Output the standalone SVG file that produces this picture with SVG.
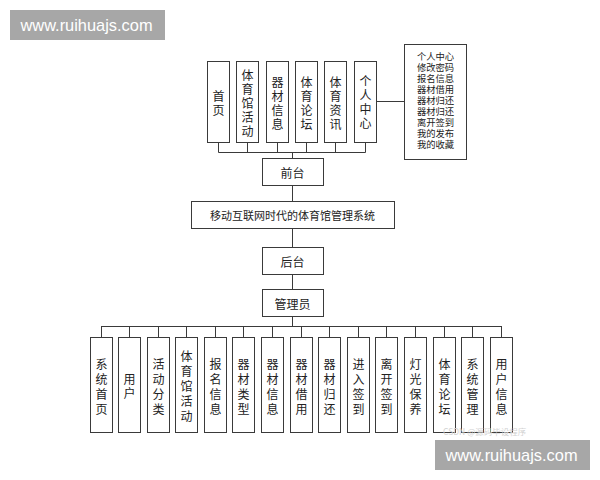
<svg xmlns="http://www.w3.org/2000/svg" width="600" height="480" viewBox="0 0 600 480">
<style>
.box{fill:#fff;stroke:#3a3a3a;stroke-width:1}
.ln{stroke:#3a3a3a;stroke-width:1;fill:none}
.t{font-family:"Noto Sans CJK SC","Noto Sans",sans-serif;font-size:12px;fill:#222;text-anchor:middle;dominant-baseline:central}
.s{font-size:9.3px}
.wm{fill:#a7a7a7}
.wt{font-family:"Liberation Sans",Arial,sans-serif;font-size:16.4px;fill:#fff}
</style>
<rect width="600" height="480" fill="#fff"/>
<g id="connectors">
<path class="ln" d="M218.5 142V152.5M247.5 142V152.5M277.5 142V152.5M306.5 142V152.5M335.5 142V152.5M365.5 142V152.5M218.5 152.5H365.5M292.5 152.5V158"/>
<path class="ln" d="M376 101.5H404"/>
<path class="ln" d="M292.5 186V201M292.5 228V247M292.5 275V289M292.5 317V326"/>
<path class="ln" d="M101.5 326.5H501.5M101.5 326V337M129.5 326V337M158.5 326V337M186.5 326V337M215.5 326V337M243.5 326V337M272.5 326V337M301.5 326V337M329.5 326V337M358.5 326V337M386.5 326V337M415.5 326V337M444.5 326V337M472.5 326V337M501.5 326V337"/>
</g>
<g id="top-nodes">
<g id="n-shouye"><rect class="box" x="207.5" y="61.5" width="22" height="81"/><text class="t" x="218.5"><tspan x="218.5" y="94.5">首</tspan><tspan x="218.5" y="108.5">页</tspan></text></g>
<g id="n-tyghd"><rect class="box" x="236.5" y="61.5" width="22" height="81"/><text class="t"><tspan x="247.5" y="73.5">体</tspan><tspan x="247.5" y="87.5">育</tspan><tspan x="247.5" y="101.5">馆</tspan><tspan x="247.5" y="115.5">活</tspan><tspan x="247.5" y="129.5">动</tspan></text></g>
<g id="n-qcxx"><rect class="box" x="266.5" y="61.5" width="22" height="81"/><text class="t"><tspan x="277.5" y="80.5">器</tspan><tspan x="277.5" y="94.5">材</tspan><tspan x="277.5" y="108.5">信</tspan><tspan x="277.5" y="122.5">息</tspan></text></g>
<g id="n-tylt"><rect class="box" x="295.5" y="61.5" width="22" height="81"/><text class="t"><tspan x="306.5" y="80.5">体</tspan><tspan x="306.5" y="94.5">育</tspan><tspan x="306.5" y="108.5">论</tspan><tspan x="306.5" y="122.5">坛</tspan></text></g>
<g id="n-tyzx"><rect class="box" x="324.5" y="61.5" width="22" height="81"/><text class="t"><tspan x="335.5" y="80.5">体</tspan><tspan x="335.5" y="94.5">育</tspan><tspan x="335.5" y="108.5">资</tspan><tspan x="335.5" y="122.5">讯</tspan></text></g>
<g id="n-grzx"><rect class="box" x="354.5" y="61.5" width="22" height="81"/><text class="t"><tspan x="365.5" y="79.5">个</tspan><tspan x="365.5" y="93.5">人</tspan><tspan x="365.5" y="107.5">中</tspan><tspan x="365.5" y="121.5">心</tspan></text></g>
<g id="n-grzx-detail"><rect class="box" x="404.5" y="44.5" width="62" height="115"/><text class="t s"><tspan x="435.5" y="56">个人中心</tspan><tspan x="435.5" y="67">修改密码</tspan><tspan x="435.5" y="78">报名信息</tspan><tspan x="435.5" y="89">器材借用</tspan><tspan x="435.5" y="100">器材归还</tspan><tspan x="435.5" y="111">器材归还</tspan><tspan x="435.5" y="122">离开签到</tspan><tspan x="435.5" y="133">我的发布</tspan><tspan x="435.5" y="144">我的收藏</tspan></text></g>
</g>
<g id="n-qiantai"><rect class="box" x="262.5" y="158.5" width="61" height="27"/><text class="t" x="292.5" y="172">前台</text></g>
<g id="n-system"><rect class="box" x="191.5" y="201.5" width="203" height="27"/><text class="t" x="292.5" y="215" style="font-size:11px">移动互联网时代的体育馆管理系统</text></g>
<g id="n-houtai"><rect class="box" x="262.5" y="247.5" width="61" height="27"/><text class="t" x="292.5" y="261">后台</text></g>
<g id="n-admin"><rect class="box" x="262.5" y="289.5" width="61" height="27"/><text class="t" x="292.5" y="303">管理员</text></g>
<g id="bottom-nodes">
<g id="b1"><rect class="box" x="90.5" y="337.5" width="22" height="95"/><text class="t"><tspan x="101.5" y="363">系</tspan><tspan x="101.5" y="378">统</tspan><tspan x="101.5" y="393">首</tspan><tspan x="101.5" y="408">页</tspan></text></g>
<g id="b2"><rect class="box" x="118.5" y="337.5" width="22" height="95"/><text class="t"><tspan x="129.5" y="378">用</tspan><tspan x="129.5" y="392">户</tspan></text></g>
<g id="b3"><rect class="box" x="147.5" y="337.5" width="22" height="95"/><text class="t"><tspan x="158.5" y="363">活</tspan><tspan x="158.5" y="378">动</tspan><tspan x="158.5" y="393">分</tspan><tspan x="158.5" y="408">类</tspan></text></g>
<g id="b4"><rect class="box" x="175.5" y="337.5" width="22" height="95"/><text class="t"><tspan x="186.5" y="355">体</tspan><tspan x="186.5" y="370">育</tspan><tspan x="186.5" y="385">馆</tspan><tspan x="186.5" y="400">活</tspan><tspan x="186.5" y="415">动</tspan></text></g>
<g id="b5"><rect class="box" x="204.5" y="337.5" width="22" height="95"/><text class="t"><tspan x="215.5" y="363">报</tspan><tspan x="215.5" y="378">名</tspan><tspan x="215.5" y="393">信</tspan><tspan x="215.5" y="408">息</tspan></text></g>
<g id="b6"><rect class="box" x="232.5" y="337.5" width="22" height="95"/><text class="t"><tspan x="243.5" y="363">器</tspan><tspan x="243.5" y="378">材</tspan><tspan x="243.5" y="393">类</tspan><tspan x="243.5" y="408">型</tspan></text></g>
<g id="b7"><rect class="box" x="261.5" y="337.5" width="22" height="95"/><text class="t"><tspan x="272.5" y="363">器</tspan><tspan x="272.5" y="378">材</tspan><tspan x="272.5" y="393">信</tspan><tspan x="272.5" y="408">息</tspan></text></g>
<g id="b8"><rect class="box" x="290.5" y="337.5" width="22" height="95"/><text class="t"><tspan x="301.5" y="363">器</tspan><tspan x="301.5" y="378">材</tspan><tspan x="301.5" y="393">借</tspan><tspan x="301.5" y="408">用</tspan></text></g>
<g id="b9"><rect class="box" x="318.5" y="337.5" width="22" height="95"/><text class="t"><tspan x="329.5" y="363">器</tspan><tspan x="329.5" y="378">材</tspan><tspan x="329.5" y="393">归</tspan><tspan x="329.5" y="408">还</tspan></text></g>
<g id="b10"><rect class="box" x="347.5" y="337.5" width="22" height="95"/><text class="t"><tspan x="358.5" y="363">进</tspan><tspan x="358.5" y="378">入</tspan><tspan x="358.5" y="393">签</tspan><tspan x="358.5" y="408">到</tspan></text></g>
<g id="b11"><rect class="box" x="375.5" y="337.5" width="22" height="95"/><text class="t"><tspan x="386.5" y="363">离</tspan><tspan x="386.5" y="378">开</tspan><tspan x="386.5" y="393">签</tspan><tspan x="386.5" y="408">到</tspan></text></g>
<g id="b12"><rect class="box" x="404.5" y="337.5" width="22" height="95"/><text class="t"><tspan x="415.5" y="363">灯</tspan><tspan x="415.5" y="378">光</tspan><tspan x="415.5" y="393">保</tspan><tspan x="415.5" y="408">养</tspan></text></g>
<g id="b13"><rect class="box" x="433.5" y="337.5" width="22" height="95"/><text class="t"><tspan x="444.5" y="363">体</tspan><tspan x="444.5" y="378">育</tspan><tspan x="444.5" y="393">论</tspan><tspan x="444.5" y="408">坛</tspan></text></g>
<g id="b14"><rect class="box" x="461.5" y="337.5" width="22" height="95"/><text class="t"><tspan x="472.5" y="363">系</tspan><tspan x="472.5" y="378">统</tspan><tspan x="472.5" y="393">管</tspan><tspan x="472.5" y="408">理</tspan></text></g>
<g id="b15"><rect class="box" x="490.5" y="337.5" width="22" height="95"/><text class="t"><tspan x="501.5" y="363">用</tspan><tspan x="501.5" y="378">户</tspan><tspan x="501.5" y="393">信</tspan><tspan x="501.5" y="408">息</tspan></text></g>
</g>
<text x="443" y="435" style="font-family:'Noto Sans CJK SC',sans-serif;font-size:8.5px;fill:#d2d2d2">CSDN @源码毕设程序</text>
<g id="watermarks">
<rect class="wm" x="10" y="10" width="155" height="30"/>
<text class="wt" x="20.5" y="31">www.ruihuajs.com</text>
<rect class="wm" x="435" y="440" width="155" height="30"/>
<text class="wt" x="445.5" y="461">www.ruihuajs.com</text>
</g>
</svg>
